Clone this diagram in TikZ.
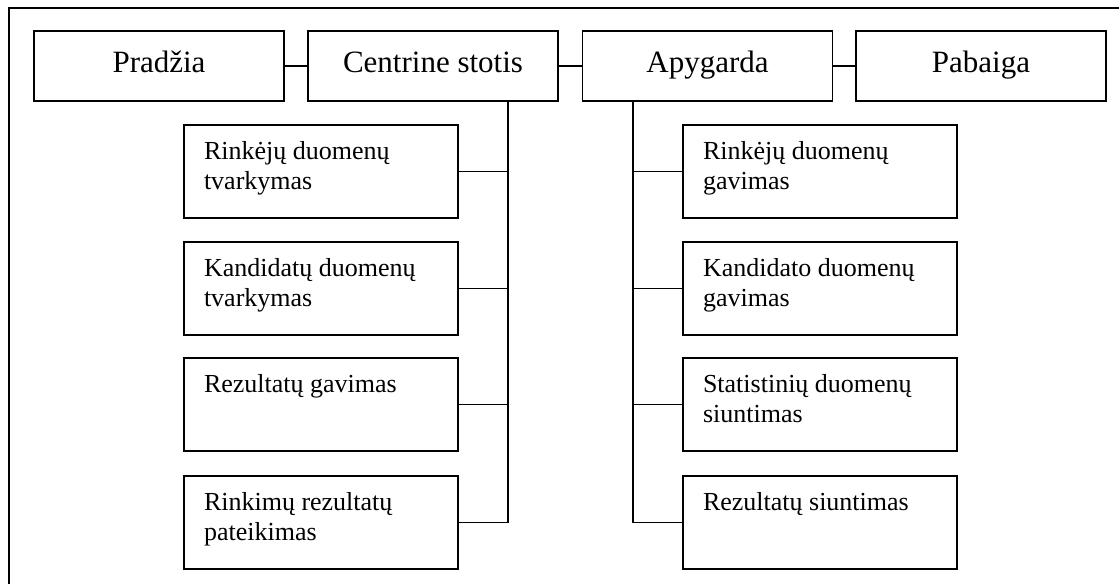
\documentclass[tikz,border=0pt]{standalone}
\usepackage{fontspec}
\setmainfont{Liberation Serif}
% sub-box text: top-left aligned block inside a fixed-size box
\newcommand\stagetext[1]{\parbox[c][46.5pt][t]{137pt}{\raggedright\leftskip=10pt\vspace*{6.5pt}\strut #1}}
\begin{document}
\begin{tikzpicture}[x=0.5pt,y=-0.5pt,
  every path/.style={line width=0.7pt},
  phase/.style={draw, line width=0.7pt, inner sep=0pt, minimum width=125pt, minimum height=35pt,
    text height=10pt, text depth=4pt, font=\fontsize{15.5}{18}\selectfont},
  stage/.style={draw, line width=0.7pt, inner sep=0pt, minimum width=137pt, minimum height=46.5pt,
    font=\fontsize{13}{15}\selectfont}]
  \useasboundingbox (0,0) rectangle (1119,584);
  % outer frame (open towards right and bottom)
  \draw (9,584) -- (9,8) -- (1119,8);

  % main phases
  \node[phase] (pr) at (159,66) {Pradžia};
  \node[phase] (cs) at (433,66) {Centrine stotis};
  \node[phase] (ap) at (707.5,66) {Apygarda};
  \node[phase] (pb) at (981,66) {Pabaiga};
  \draw (pr.east) -- (cs.west);
  \draw (cs.east) -- (ap.west);
  \draw (ap.east) -- (pb.west);

  % spines
  \coordinate (spL) at (508,0);
  \coordinate (spR) at (633,0);

  % central station tasks
  \node[stage] (l1) at (321,171.5) {\stagetext{Rinkėjų duomenų tvarkymas}};
  \node[stage] (l2) at (321,288.5) {\stagetext{Kandidatų duomenų tvarkymas}};
  \node[stage] (l3) at (321,404.5) {\stagetext{Rezultatų gavimas}};
  \node[stage] (l4) at (321,522.5) {\stagetext{Rinkimų rezultatų pateikimas}};

  % district tasks
  \node[stage] (r1) at (820,171.5) {\stagetext{Rinkėjų duomenų gavimas}};
  \node[stage] (r2) at (820,288.5) {\stagetext{Kandidato duomenų gavimas}};
  \node[stage] (r3) at (820,404.5) {\stagetext{Statistinių duomenų siuntimas}};
  \node[stage] (r4) at (820,522.5) {\stagetext{Rezultatų siuntimas}};

  % tree connectors
  \draw (cs.south -| spL) |- (l4.east);
  \foreach \n in {l1,l2,l3} \draw (\n.east) -- (\n.east -| spL);
  \draw (ap.south -| spR) |- (r4.west);
  \foreach \n in {r1,r2,r3} \draw (\n.west) -- (\n.west -| spR);
\end{tikzpicture}
\end{document}
